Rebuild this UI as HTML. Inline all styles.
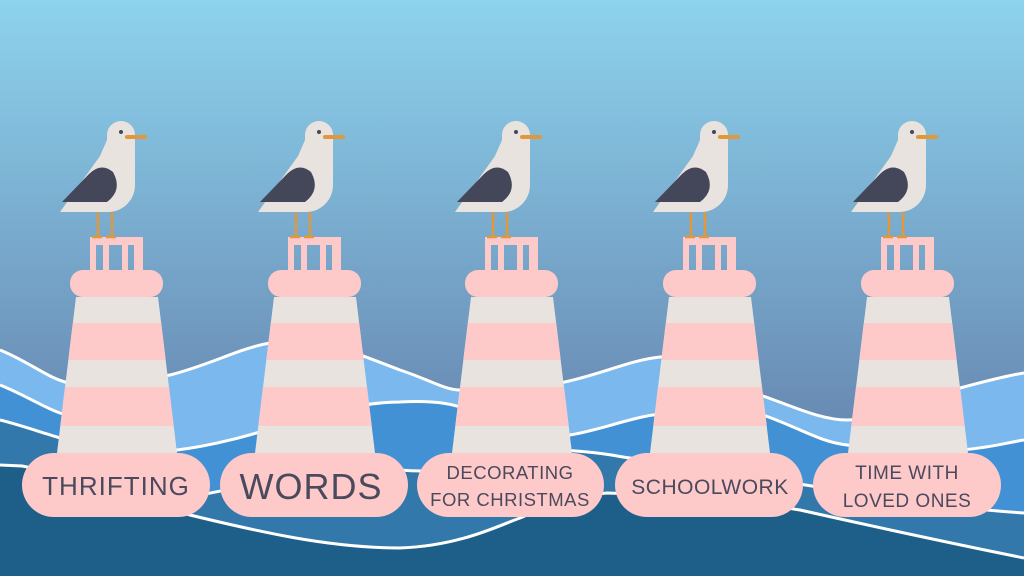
<!DOCTYPE html>
<html><head><meta charset="utf-8"><style>
html,body{margin:0;padding:0;width:1024px;height:576px;overflow:hidden}
svg{display:block}
text{font-family:"Liberation Sans",sans-serif;fill:#4a4a5e;text-anchor:middle}
</style></head><body>
<svg width="1024" height="576" viewBox="0 0 1024 576" xmlns="http://www.w3.org/2000/svg">
<defs>
<linearGradient id="sky" x1="0" y1="0" x2="0" y2="1">
<stop offset="0" stop-color="#8dd3ee"/><stop offset="0.7" stop-color="#6a8db5"/><stop offset="1" stop-color="#6484ad"/>
</linearGradient>
<g id="lh">
<path d="M-27,237 h53 v33 h-53z M-21,245 v25 h7 v-25z M-8,245 v25 h13 v-25z M11,245 v25 h6 v-25z" fill="#fec9c9" fill-rule="evenodd"/>
<rect x="-47" y="270" width="93" height="27" rx="13" fill="#fec9c9"/>
<polygon points="-41,297 41,297 60,453 -60,453" fill="#e8e3de"/>
<polygon points="-44.2,323 44.2,323 48.7,360 -48.7,360" fill="#fec9c9"/>
<polygon points="-52,387 52,387 56.7,426 -56.7,426" fill="#fec9c9"/>
<path d="M-10,135 a14,14 0 0 1 28,0 L18,185 a27,27 0 0 1 -27,27 L-57,212 L-17,156 L-10,140 Z" fill="#e8e3de"/>
<path d="M-55,202 L-28,174 Q-16,162 -4,172 Q6,190 -10,202 Z" fill="#44475a"/>
<circle cx="4" cy="132" r="2" fill="#44475a"/>
<line x1="10" y1="137" x2="28" y2="137" stroke="#e0983a" stroke-width="4" stroke-linecap="round"/>
<g stroke="#e0983a" stroke-width="2.5" fill="none"><path d="M-19,212 v25 M-25,237 h10 M-5,212 v25 M-11,237 h10"/></g>
</g>
<path id="wA" d="M0,350 C30,362 50,380 70,383 C110,388 140,380 170,375 C210,365 240,348 270,343 C320,336 360,355 400,370 C430,380 445,390 460,390 C500,392 530,388 560,383 C600,375 630,360 660,357 C700,354 730,385 760,395 C790,405 820,420 847,420 C900,420 930,395 960,388 C990,380 1010,375 1024,373"/>
<path id="wB" d="M0,385 C25,395 45,408 60,413 C110,430 150,448 177,450 C260,440 330,402 400,402 C440,400 455,405 470,410 C510,422 545,432 570,435 C600,430 630,418 653,415 C700,410 740,408 763,415 C800,428 820,442 847,445 C900,452 940,450 960,450 C990,448 1010,442 1024,440"/>
<path id="wC" d="M0,420 C20,425 40,432 57,437 C110,455 150,485 200,495 C280,480 330,465 400,470 C470,476 520,452 560,450 C600,452 615,456 630,458 C760,475 900,505 1024,513"/>
<path id="wD" d="M0,465 L22,466 C100,480 150,505 190,515 C260,532 330,548 400,548 C460,546 500,525 520,518 C550,505 580,495 607,493 C680,495 740,500 800,510 C880,528 960,545 1024,558"/>
</defs>
<rect width="1024" height="576" fill="url(#sky)"/>
<path d="M0,350 C30,362 50,380 70,383 C110,388 140,380 170,375 C210,365 240,348 270,343 C320,336 360,355 400,370 C430,380 445,390 460,390 C500,392 530,388 560,383 C600,375 630,360 660,357 C700,354 730,385 760,395 C790,405 820,420 847,420 C900,420 930,395 960,388 C990,380 1010,375 1024,373 L1030,373 L1030,580 L-6,580 L-6,350Z" fill="#7ab8ee"/>
<path d="M0,385 C25,395 45,408 60,413 C110,430 150,448 177,450 C260,440 330,402 400,402 C440,400 455,405 470,410 C510,422 545,432 570,435 C600,430 630,418 653,415 C700,410 740,408 763,415 C800,428 820,442 847,445 C900,452 940,450 960,450 C990,448 1010,442 1024,440 L1030,440 L1030,580 L-6,580 L-6,385Z" fill="#4391d5"/>
<path d="M0,420 C20,425 40,432 57,437 C110,455 150,485 200,495 C280,480 330,465 400,470 C470,476 520,452 560,450 C600,452 615,456 630,458 C760,475 900,505 1024,513 L1030,513 L1030,580 L-6,580 L-6,420Z" fill="#3278ab"/>
<path d="M0,465 L22,466 C100,480 150,505 190,515 C260,532 330,548 400,548 C460,546 500,525 520,518 C550,505 580,495 607,493 C680,495 740,500 800,510 C880,528 960,545 1024,558 L1030,558 L1030,580 L-6,580 L-6,465Z" fill="#1d5f89"/>
<g stroke="#fff" stroke-width="3" fill="none">
<use href="#wA"/><use href="#wB"/><use href="#wC"/><use href="#wD"/>
</g>
<use href="#lh" x="117"/>
<use href="#lh" x="315"/>
<use href="#lh" x="512"/>
<use href="#lh" x="710"/>
<use href="#lh" x="908"/>
<g fill="#fec9c9">
<rect x="22" y="453" width="188" height="64" rx="32"/>
<rect x="220" y="453" width="188" height="64" rx="32"/>
<rect x="417" y="453" width="187" height="64" rx="32"/>
<rect x="615" y="453" width="188" height="64" rx="32"/>
<rect x="813" y="453" width="188" height="64" rx="32"/>
</g>
<text x="116" y="495" font-size="26" letter-spacing="1">THRIFTING</text>
<text x="311" y="499" font-size="36" letter-spacing="1">WORDS</text>
<text x="510" y="479" font-size="18.5" letter-spacing="0.5">DECORATING</text>
<text x="510" y="506" font-size="18.5" letter-spacing="0.5">FOR CHRISTMAS</text>
<text x="710" y="494" font-size="21" letter-spacing="0.5">SCHOOLWORK</text>
<text x="907" y="479" font-size="19" letter-spacing="0.5">TIME WITH</text>
<text x="907" y="507" font-size="19" letter-spacing="0.5">LOVED ONES</text>
</svg>
</body></html>
